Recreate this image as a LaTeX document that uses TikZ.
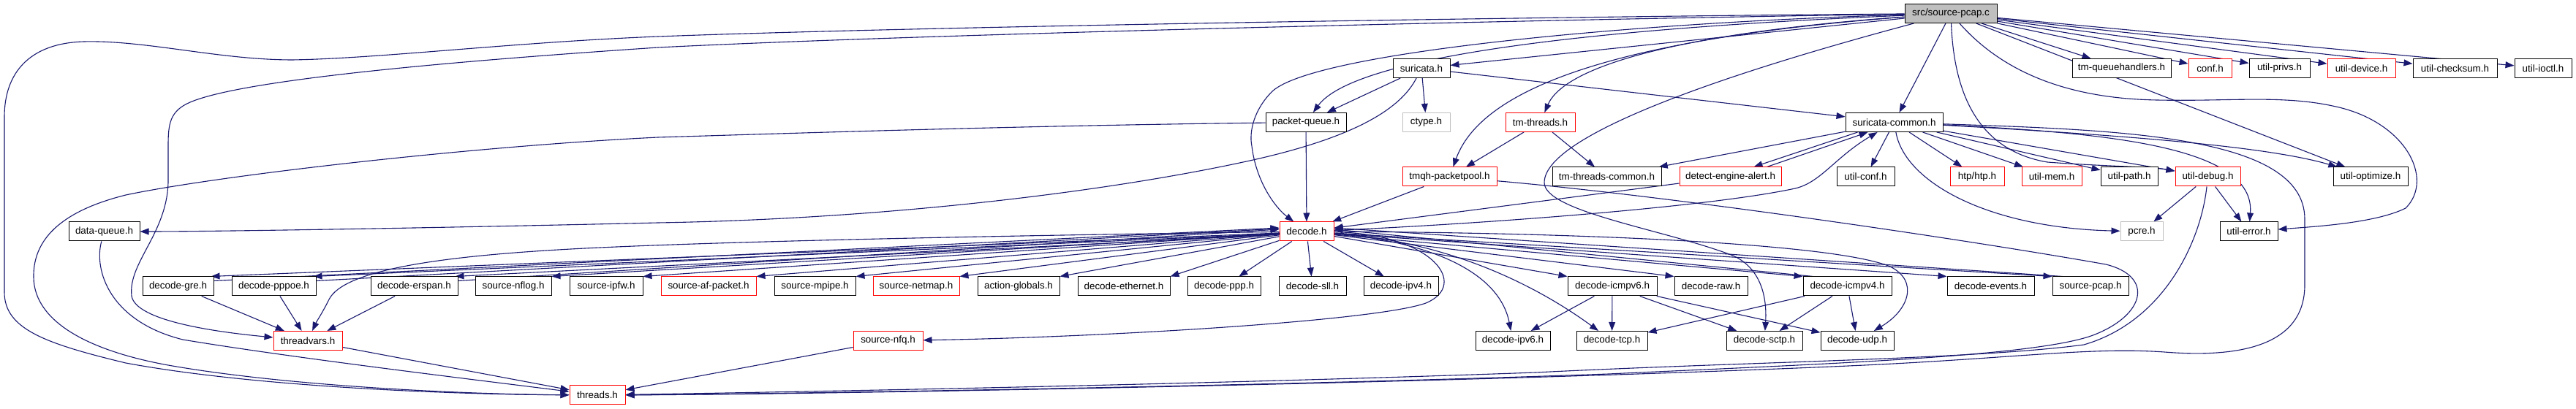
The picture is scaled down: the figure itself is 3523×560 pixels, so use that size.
\documentclass[tikz,border=0pt]{standalone}
\usepackage{fontspec}
\setmainfont{Liberation Sans}
\usetikzlibrary{arrows.meta,calc,backgrounds}
\definecolor{edgec}{HTML}{191970}
\definecolor{redc}{HTML}{FF0000}
\definecolor{greyc}{HTML}{BFBFBF}
\tikzset{
 box/.style={draw=black, line width=0.5pt, fill=white, minimum height=13pt, inner sep=0pt, font=\fontsize{6.7}{7}\selectfont, text=black},
 redbox/.style={box, draw=redc},
 greybox/.style={box, draw=greyc},
 srcbox/.style={box, fill=greyc},
 edge/.style={draw=edgec, line width=0.55pt, -{Triangle[length=6pt,width=4.4pt]}},
}
\begin{document}
\begin{tikzpicture}[x=0.5pt,y=-0.5pt]
\useasboundingbox (0,0) rectangle (3523,560);
% row 0
\node[srcbox, minimum width=63pt] (src) at (2668,18.5) {src/source-pcap.c};
% row 1
\node[box, minimum width=39pt] (suricata) at (1944,93.5) {suricata.h};
\node[box, minimum width=67.5pt] (tmqueue) at (2901.5,93.5) {tm-queuehandlers.h};
\node[redbox, minimum width=29.5pt] (conf) at (3022.5,93.5) {conf.h};
\node[box, minimum width=41.5pt] (privs) at (3117.5,93.5) {util-privs.h};
\node[redbox, minimum width=46.5pt] (device) at (3229.5,93.5) {util-device.h};
\node[box, minimum width=57.5pt] (checksum) at (3357.5,93.5) {util-checksum.h};
\node[box, minimum width=39pt] (ioctl) at (3478,93.5) {util-ioctl.h};
% row 2
\node[box, minimum width=55pt] (packetqueue) at (1786,167.5) {packet-queue.h};
\node[greybox, minimum width=32.5pt] (ctype) at (1950.5,167.5) {ctype.h};
\node[redbox, minimum width=47.5pt] (tmthreads) at (2106.5,167.5) {tm-threads.h};
\node[box, minimum width=66.5pt] (common) at (2590.5,167.5) {suricata-common.h};
% row 3
\node[redbox, minimum width=64.5pt] (packetpool) at (1982.5,242) {tmqh-packetpool.h};
\node[box, minimum width=74.5pt] (tmcommon) at (2197.5,242) {tm-threads-common.h};
\node[redbox, minimum width=69.5pt] (alert) at (2366.5,242) {detect-engine-alert.h};
\node[box, minimum width=39.5pt] (utilconf) at (2551.5,242) {util-conf.h};
\node[redbox, minimum width=37pt] (htp) at (2704,242) {htp/htp.h};
\node[redbox, minimum width=41pt] (mem) at (2806,242) {util-mem.h};
\node[box, minimum width=39pt] (path) at (2912,242) {util-path.h};
\node[redbox, minimum width=44.5pt] (debug) at (3019.5,242) {util-debug.h};
\node[box, minimum width=51pt] (optimize) at (3242,242) {util-optimize.h};
% row 4
\node[box, minimum width=48.5pt] (dataqueue) at (142.5,317) {data-queue.h};
\node[redbox, minimum width=37pt] (decode) at (1787,317) {decode.h};
\node[greybox, minimum width=29pt] (pcre) at (2929,317) {pcre.h};
\node[box, minimum width=39.5pt] (error) at (3075.5,317) {util-error.h};
% row 5
\node[box, minimum width=48.5pt] (gre) at (243.5,392) {decode-gre.h};
\node[box, minimum width=57.5pt] (pppoe) at (374.5,392) {decode-pppoe.h};
\node[box, minimum width=59.5pt] (erspan) at (566.5,392) {decode-erspan.h};
\node[box, minimum width=52pt] (nflog) at (702,392) {source-nflog.h};
\node[box, minimum width=50pt] (ipfw) at (829,392) {source-ipfw.h};
\node[redbox, minimum width=65pt] (afpacket) at (969,392) {source-af-packet.h};
\node[box, minimum width=55.5pt] (mpipe) at (1114.5,392) {source-mpipe.h};
\node[redbox, minimum width=59pt] (netmap) at (1253,392) {source-netmap.h};
\node[box, minimum width=56pt] (actionglobals) at (1393,392) {action-globals.h};
\node[box, minimum width=63pt] (ethernet) at (1537,392) {decode-ethernet.h};
\node[box, minimum width=50pt] (ppp) at (1674,392) {decode-ppp.h};
\node[box, minimum width=46pt] (sll) at (1795,392) {decode-sll.h};
\node[box, minimum width=51pt] (ipv4) at (1916,392) {decode-ipv4.h};
\node[box, minimum width=61pt] (icmpv6) at (2205,392) {decode-icmpv6.h};
\node[box, minimum width=50pt] (raw) at (2340,392) {decode-raw.h};
\node[box, minimum width=60.5pt] (icmpv4) at (2526.5,392) {decode-icmpv4.h};
\node[box, minimum width=59.5pt] (events) at (2722.5,392) {decode-events.h};
\node[box, minimum width=52pt] (sourcepcaph) at (2859,392) {source-pcap.h};
% row 6
\node[redbox, minimum width=47pt] (threadvars) at (421,466.5) {threadvars.h};
\node[redbox, minimum width=47.5pt] (nfq) at (1214.5,466.5) {source-nfq.h};
\node[box, minimum width=51pt] (ipv6) at (2069,466.5) {decode-ipv6.h};
\node[box, minimum width=48.5pt] (tcp) at (2204.5,466.5) {decode-tcp.h};
\node[box, minimum width=52pt] (sctp) at (2413,466.5) {decode-sctp.h};
\node[box, minimum width=50pt] (udp) at (2540,466.5) {decode-udp.h};
% row 7
\node[redbox, minimum width=38pt] (threads) at (817,541) {threads.h};

\begin{scope}[on background layer]
\fill[white] (0,0) rectangle (3523,560);
% ---- from src/source-pcap.c
\draw[edge] (src) -- (suricata);
\draw[edge] (src) -- (common);
\draw[edge] (src) -- (tmqueue);
\draw[edge] (src) -- (conf);
\draw[edge] (src) -- (privs);
\draw[edge] (src) -- (device);
\draw[edge] (src) -- (checksum);
\draw[edge] (src) -- (ioctl);
\draw[edge] (src) -- (optimize);
\draw[edge] (src) .. controls (2150,40) and (1850,80) .. (packetqueue);
\draw[edge] (src) .. controls (2250,30) and (1800,70) .. (1740,125) .. controls (1715,150) and (1708,180) .. (1712,200) .. controls (1718,250) and (1745,285) .. (decode);
\draw[edge] (src) .. controls (2200,22) and (1300,35) .. (900,50) .. controls (700,58) and (520,80) .. (400,82) .. controls (300,82) and (200,55) .. (115,57) .. controls (40,59) and (6,100) .. (6,160) -- (6,400) .. controls (6,450) and (60,470) .. (172,497) .. controls (350,530) and (620,540) .. (threads);
\draw[edge] (src) .. controls (2200,25) and (1300,45) .. (900,65) .. controls (600,85) and (330,110) .. (260,140) .. controls (232,152) and (230,170) .. (230,200) -- (230,250) .. controls (228,320) and (175,360) .. (180,405) .. controls (185,440) and (300,455) .. (threadvars);
\draw[edge] (src) .. controls (2300,45) and (2140,90) .. (tmthreads);
\draw[edge] (src) .. controls (2250,50) and (2030,110) .. (packetpool);
\draw[edge] (src) .. controls (2400,90) and (2112,180) .. (2112,250) .. controls (2112,290) and (2280,315) .. (2370,350) .. controls (2415,370) and (2416,420) .. (sctp);
\draw[edge] (src) .. controls (2672,120) and (2700,205) .. (2800,222) .. controls (2880,228) and (2940,228) .. (debug);
\draw[edge] (src) .. controls (2740,100) and (2830,135) .. (2950,137) .. controls (3050,139) and (3120,130) .. (3190,145) .. controls (3290,165) and (3330,245) .. (3290,285) .. controls (3250,305) and (3170,310) .. (error);
% ---- suricata.h
\draw[edge] (suricata) -- (packetqueue);
\draw[edge] (suricata) -- (ctype);
\draw[edge] (suricata) -- (common);
\draw[edge] (suricata) .. controls (1915,150) and (1850,190) .. (1700,222) .. controls (1500,265) and (1200,300) .. (900,305) .. controls (600,312) and (300,317) .. (dataqueue);
% ---- tm-threads.h
\draw[edge] (tmthreads) -- (packetpool);
\draw[edge] (tmthreads) -- (tmcommon);
% ---- suricata-common.h
\draw[edge] (common) -- (tmcommon);
\draw[edge] ($(common.south)+(-50,0)$) -- ($(alert.north)+(32,0)$);
\draw[edge] ($(alert.north)+(50,0)$) -- ($(common.south)+(-36,0)$);
\draw[edge] (common) -- (utilconf);
\draw[edge] (common) -- (htp);
\draw[edge] (common) -- (mem);
\draw[edge] (common) -- (path);
\draw[edge] (common) -- (debug);
\draw[edge] (common) .. controls (2900,185) and (3100,200) .. (optimize);
\draw[edge] (common) .. controls (2880,182) and (3085,200) .. (error);
\draw[edge] (common) .. controls (2605,250) and (2720,312) .. (pcre);
\draw[edge] (common) .. controls (2900,178) and (3152,185) .. (3152,300) -- (3152,390) .. controls (3152,475) and (3060,490) .. (2960,482) .. controls (2860,475) and (2760,490) .. (2550,500) .. controls (2000,525) and (1100,540) .. (threads);
% ---- util-debug.h
\draw[edge] (debug) -- (pcre);
\draw[edge] (debug) -- (error);
\draw[edge] (debug) .. controls (3010,330) and (2960,440) .. (2850,472) .. controls (2700,492) and (2400,495) .. (2100,510) .. controls (1600,528) and (1000,538) .. (threads);
% ---- others into decode / threads
\draw[edge] (packetqueue) -- (decode);
\draw[edge] (packetpool) -- (decode);
\draw[edge] (alert) -- (decode);
\draw[edge] (packetpool) .. controls (2300,270) and (2700,330) .. (2880,362) .. controls (2945,378) and (2935,430) .. (2865,458) .. controls (2790,488) and (2500,498) .. (2200,512) .. controls (1700,530) and (1000,540) .. (threads);
\draw[edge] (packetqueue) .. controls (1400,172) and (1100,182) .. (900,188) .. controls (650,200) and (300,240) .. (172,267) .. controls (80,290) and (45,330) .. (46,380) .. controls (47,440) and (120,480) .. (230,500) .. controls (400,530) and (650,540) .. (threads);
\draw[edge] (dataqueue) .. controls (128,370) and (150,440) .. (250,465) .. controls (400,490) and (650,520) .. (threads);
% ---- decode.h
\draw[edge] (decode) .. controls (2000,308) and (2330,285) .. (2455,258) .. controls (2490,250) and (2510,215) .. (common);
\draw[edge] ($(decode.west)+(0,2)$) -- ($(gre.north east)+(-4,0)$);
\draw[edge] ($(gre.north east)+(0,6)$) -- ($(decode.west)+(0,-5)$);
\draw[edge] ($(decode.west)+(0,3)$) -- ($(pppoe.north east)+(-4,0)$);
\draw[edge] ($(pppoe.north east)+(0,6)$) -- ($(decode.west)+(0,-4)$);
\draw[edge] ($(decode.west)+(0,4)$) -- ($(erspan.north east)+(-4,0)$);
\draw[edge] ($(erspan.north east)+(0,6)$) -- ($(decode.west)+(0,-3)$);
\draw[edge] (decode) -- (nflog.north east);
\draw[edge] (decode) -- (ipfw.north east);
\draw[edge] (decode) -- (afpacket.north east);
\draw[edge] (decode) -- (mpipe.north east);
\draw[edge] (decode) -- (netmap.north east);
\draw[edge] (decode) -- (actionglobals.north east);
\draw[edge] (decode) -- (ethernet.north east);
\draw[edge] (decode) -- (ppp);
\draw[edge] (decode) -- (sll);
\draw[edge] (decode) -- (ipv4);
\draw[edge] (decode) .. controls (1400,322) and (1000,330) .. (800,340) .. controls (600,350) and (470,370) .. (450,410) .. controls (440,430) and (433,440) .. (threadvars);
\draw[edge] (decode) .. controls (1960,320) and (2010,390) .. (1950,415) .. controls (1880,440) and (1500,462) .. (nfq);
\draw[edge] (decode) .. controls (1950,330) and (2050,370) .. (ipv6);
\draw[edge] (decode) .. controls (1980,330) and (2100,390) .. (tcp);
\draw[edge] (decode) .. controls (2100,318) and (2500,330) .. (2585,365) .. controls (2625,385) and (2610,425) .. (udp);
\draw[edge] (decode) -- (icmpv6.north west);
\draw[edge] (decode) -- (raw.north west);
\draw[edge] ($(decode.east)+(0,4)$) -- (icmpv4.north west);
\draw[edge] ($(icmpv4.north west)+(14,0)$) -- ($(decode.east)+(0,-3)$);
\draw[edge] (decode) -- (events.north west);
\draw[edge] ($(decode.east)+(0,2)$) -- (sourcepcaph.north west);
\draw[edge] ($(sourcepcaph.north west)+(14,0)$) -- ($(decode.east)+(0,-5)$);
% ---- icmp
\draw[edge] (icmpv6) -- (ipv6);
\draw[edge] (icmpv6) -- (tcp);
\draw[edge] (icmpv6) -- (sctp);
\draw[edge] (icmpv6) -- (udp);
\draw[edge] (icmpv4) -- (tcp);
\draw[edge] (icmpv4) -- (sctp);
\draw[edge] (icmpv4) -- (udp);
% ---- threadvars
\draw[edge] (gre) -- (threadvars);
\draw[edge] (pppoe) -- (threadvars);
\draw[edge] (erspan) -- (threadvars);
\draw[edge] (threadvars) -- (threads);
\draw[edge] (nfq) -- (threads);
\end{scope}
\end{tikzpicture}
\end{document}
